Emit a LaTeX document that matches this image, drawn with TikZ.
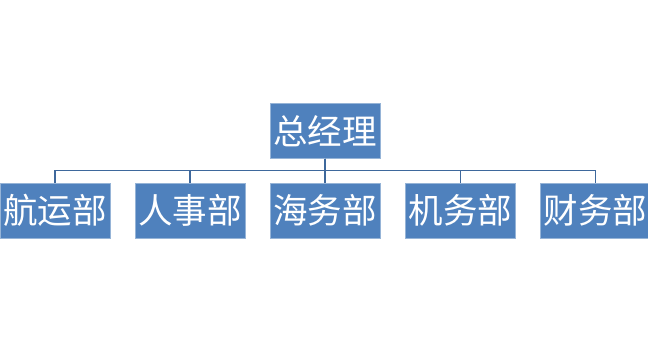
\documentclass[tikz,border=0pt]{standalone}
\usepackage{fontspec}
\newfontfamily\cjk{Noto Sans CJK SC}
\usetikzlibrary{positioning}
\definecolor{orgblue}{RGB}{79,129,189}
\definecolor{orgedge}{RGB}{150,180,215}
\definecolor{orgline}{RGB}{62,104,156}

\begin{document}
\begin{tikzpicture}[
    unit/.style={rectangle, draw=orgedge, line width=0.6pt, fill=orgblue, minimum width=110pt, minimum height=55pt, inner sep=0pt, text=white, font=\cjk\fontsize{34.5}{40}\selectfont},
    link/.style={orgline, line width=1.5pt}
]
\useasboundingbox (0,0) rectangle (648pt,343pt);
\node[unit] (hangyun) at (55pt,132.5pt) {航运部};
\node[unit, right=24.5pt of hangyun] (renshi) {人事部};
\node[unit, right=24.5pt of renshi] (haiwu) {海务部};
\node[unit, right=24.5pt of haiwu] (jiwu) {机务部};
\node[unit, right=24.5pt of jiwu] (caiwu) {财务部};
\node[unit, above=24pt of haiwu] (zongjingli) {总经理};
\foreach \d in {hangyun, renshi, haiwu, jiwu, caiwu}
    \draw[link] (zongjingli.south) -- ++(0,-12pt) -| (\d.north);
\end{tikzpicture}
\end{document}
